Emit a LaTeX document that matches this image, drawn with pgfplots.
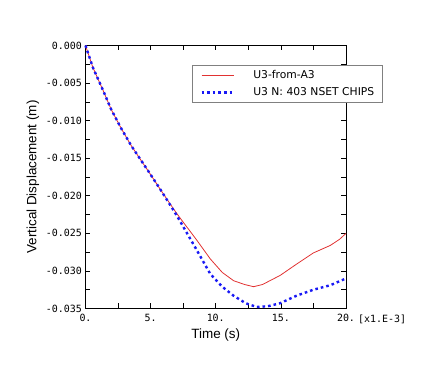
\documentclass[border=0pt]{standalone}
\usepackage{fontspec}
\setmainfont{DejaVu Sans}
\newfontfamily\tickfont{DejaVu Sans Mono}
\newfontfamily\labfont{Liberation Sans}
\usepackage{pgfplots}
\pgfplotsset{compat=1.18}
\definecolor{cred}{RGB}{225,50,50}
\definecolor{cblue}{RGB}{25,25,245}
\begin{document}
\begin{tikzpicture}
\useasboundingbox (-85.5bp,-59.5bp) rectangle (341.5bp,308.5bp);
\begin{axis}[
  at={(0,0)}, anchor=south west,
  width=260.5bp, height=263bp, scale only axis,
  xmin=0, xmax=20, ymin=-0.035, ymax=0,
  scaled x ticks=false, scaled y ticks=false,
  xtick={0,5,10,15,20},
  xticklabels={0.,5.,10.,15.,20.},
  ytick={-0.035,-0.030,-0.025,-0.020,-0.015,-0.010,-0.005,0},
  yticklabels={-0.035,-0.030,-0.025,-0.020,-0.015,-0.010,-0.005,0.000},
  minor x tick num=1, minor y tick num=1,
  major tick length=5bp, minor tick length=5bp,
  tick style={black, line width=0.6bp},
  axis line style={black, line width=0.8bp},
  tick label style={font=\tickfont\fontsize{10}{12}\selectfont},
  xticklabel style={yshift=-2bp},
  label style={font=\labfont\fontsize{13.5}{16}\selectfont},
  xlabel={Time (s)},
  ylabel={Vertical Displacement (m)},
  legend cell align=left,
  legend style={at={(rel axis cs:0.409,0.926)}, anchor=north west,
    draw=gray, fill=white, line width=0.6bp,
    font=\fontsize{10.8}{12}\selectfont,
    inner xsep=8bp, inner ysep=5.3bp, row sep=7.6bp, column sep=17.7bp,
    nodes={inner sep=0pt}},
  legend image post style={xscale=1.933},
  clip=false,
]
\addplot[cred, line width=0.8bp] coordinates {
(0,0) (0.56,-0.0029) (1.33,-0.0059) (1.97,-0.0085) (2.73,-0.0110)
(3.5,-0.0133) (4.27,-0.0153) (4.93,-0.0170) (5.8,-0.0193) (6.82,-0.0219)
(7.28,-0.0230) (8.5,-0.0258) (9.58,-0.0284) (10.5,-0.0302) (11.37,-0.0313)
(12.2,-0.0318) (12.9,-0.0321) (13.6,-0.0318) (14.94,-0.0306) (16.2,-0.0291)
(17.5,-0.0276) (18.8,-0.0266) (19.5,-0.0258) (20,-0.0250)};
\addlegendentry{U3-from-A3}
\addplot[cblue, line width=2.4bp, dash pattern=on 2.6bp off 3bp] coordinates {
(0,0) (0.56,-0.0029) (1.33,-0.0059) (1.97,-0.0085) (2.73,-0.0110)
(3.5,-0.0133) (4.27,-0.0153) (4.93,-0.0170) (5.8,-0.0193) (6.82,-0.0221)
(7.3,-0.0235) (8.5,-0.0271) (9.58,-0.0304) (10.5,-0.0321) (11.37,-0.0333)
(12.3,-0.0343) (13.15,-0.0348) (14.0,-0.0347) (14.94,-0.0343) (16.2,-0.0333)
(17.5,-0.0325) (18.8,-0.0319) (20,-0.0310)};
\addlegendentry{U3 N: 403 NSET CHIPS}
\node[anchor=base west, inner sep=0pt, font=\tickfont\fontsize{10}{12}\selectfont]
  at (rel axis cs:1,0) [xshift=12bp, yshift=-14bp] {[x1.E-3]};
\end{axis}
\end{tikzpicture}
\end{document}
